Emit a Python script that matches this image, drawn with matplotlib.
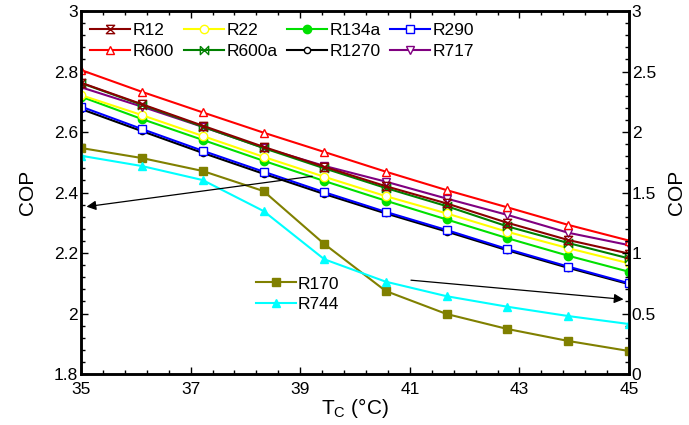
import numpy as np
import matplotlib
matplotlib.use("Agg")
import matplotlib.pyplot as plt
from matplotlib.ticker import MultipleLocator, FixedLocator

plt.rcParams['font.family'] = ['Liberation Sans', 'DejaVu Sans']

# condensing temperature (10 points from 35 to 45)
tc = [35.0, 36.11, 37.22, 38.33, 39.44, 40.56, 41.67, 42.78, 43.89, 45.0]

# left axis: COP
r12   = [2.763, 2.692, 2.621, 2.551, 2.485, 2.421, 2.364, 2.300, 2.243, 2.198]
r22   = [2.722, 2.656, 2.587, 2.518, 2.452, 2.388, 2.331, 2.270, 2.216, 2.166]
r134a = [2.717, 2.643, 2.574, 2.505, 2.438, 2.373, 2.311, 2.249, 2.191, 2.138]
r290  = [2.684, 2.610, 2.538, 2.469, 2.401, 2.336, 2.276, 2.213, 2.155, 2.100]
r600  = [2.805, 2.733, 2.665, 2.598, 2.534, 2.469, 2.408, 2.351, 2.293, 2.241]
r600a = [2.762, 2.690, 2.618, 2.547, 2.480, 2.415, 2.355, 2.288, 2.233, 2.182]
r1270 = [2.676, 2.603, 2.531, 2.462, 2.395, 2.331, 2.271, 2.209, 2.151, 2.097]
r717  = [2.748, 2.684, 2.617, 2.548, 2.488, 2.436, 2.380, 2.326, 2.267, 2.226]

# right axis: COP
r170 = [1.868, 1.785, 1.678, 1.512, 1.074, 0.686, 0.496, 0.372, 0.273, 0.190]
r744 = [1.804, 1.719, 1.603, 1.347, 0.948, 0.763, 0.643, 0.556, 0.479, 0.413]

x_ticks = [35, 37, 39, 41, 43, 45]

hourglass = [(-1, 1), (1, 1), (-1, -1), (1, -1), (-1, 1)]
bowtie = [(-1, 1), (-1, -1), (1, 1), (1, -1), (-1, 1)]

fig = plt.figure(figsize=(6.89, 4.25), dpi=100)
ax = fig.add_axes([0.1176, 0.12, 0.7954, 0.854])
ax2 = ax.twinx()

lw = 1.5
ms = 6
h = {}
h['R1270'], = ax.plot(tc, r1270, color='black', lw=lw, marker='o', ms=4.5, mfc='white', mec='black')
h['R290'], = ax.plot(tc, r290, color='blue', lw=lw, marker='s', ms=ms, mfc='white', mec='blue')
h['R134a'], = ax.plot(tc, r134a, color='#00e000', lw=lw, marker='o', ms=ms, mfc='#00e000', mec='#00e000')
h['R22'], = ax.plot(tc, r22, color='yellow', lw=lw, marker='o', ms=ms, mfc='white', mec='yellow')
h['R717'], = ax.plot(tc, r717, color='purple', lw=lw, marker='v', ms=ms, mfc='white', mec='purple')
h['R600a'], = ax.plot(tc, r600a, color='green', lw=lw, marker=bowtie, ms=ms, mfc='none', mec='green')
h['R12'], = ax.plot(tc, r12, color='#8b0000', lw=lw, marker=hourglass, ms=ms, mfc='none', mec='#8b0000')
h['R600'], = ax.plot(tc, r600, color='red', lw=lw, marker='^', ms=ms, mfc='white', mec='red')

h2 = {}
h2['R170'], = ax2.plot(tc, r170, color='#808000', lw=lw, marker='s', ms=ms)
h2['R744'], = ax2.plot(tc, r744, color='cyan', lw=lw, marker='^', ms=ms)

ax.set_xlim(35, 45)
ax.set_ylim(1.8, 3.0)
ax2.set_ylim(0, 3)

ax.xaxis.set_major_locator(FixedLocator(x_ticks))
ax.xaxis.set_minor_locator(FixedLocator(np.arange(35, 45.01, 0.4)))
ax.yaxis.set_major_locator(MultipleLocator(0.2))
ax.yaxis.set_minor_locator(MultipleLocator(0.04))
ax2.yaxis.set_major_locator(MultipleLocator(0.5))
ax2.yaxis.set_minor_locator(MultipleLocator(0.1))
ax.yaxis.set_major_formatter(plt.FuncFormatter(lambda v, p: ('%g' % round(v, 2))))
ax2.yaxis.set_major_formatter(plt.FuncFormatter(lambda v, p: ('%g' % round(v, 2))))

fs = 12.5
ax.tick_params(which='both', direction='in', top=True, labelsize=fs, width=1)
ax.tick_params(which='major', length=5)
ax.tick_params(which='minor', length=3)
ax2.tick_params(which='both', direction='in', labelsize=fs, width=1, pad=2)
ax2.tick_params(which='major', length=5)
ax2.tick_params(which='minor', length=3)
ax.tick_params(axis='x', pad=6)
ax.tick_params(axis='y', pad=2)
for a in (ax, ax2):
    for s in a.spines.values():
        s.set_linewidth(1.8)

ax.set_ylabel('COP', fontsize=15, labelpad=12)
ax2.set_ylabel('COP', fontsize=15, labelpad=8)
ax.set_xlabel('T$_\\mathregular{C}$ (°C)', fontsize=15, labelpad=-1)

order = ['R12', 'R600', 'R22', 'R600a', 'R134a', 'R1270', 'R290', 'R717']
ax.legend([h[k] for k in order], order, ncol=4, loc='upper left', bbox_to_anchor=(-0.005, 1.0),
          frameon=False, fontsize=fs, handlelength=2.3, handletextpad=0.15, columnspacing=0.55,
          labelspacing=0.3, borderaxespad=0.3)
ax2.legend([h2['R170'], h2['R744']], ['R170', 'R744'], loc='upper left', bbox_to_anchor=(0.29, 0.312),
           frameon=False, fontsize=fs, handlelength=2.3, handletextpad=0.15, labelspacing=0.3)

ax2.annotate('', xy=(35.05, 2.352 * 2.5 - 4.5), xytext=(39.27, 2.455 * 2.5 - 4.5),
             arrowprops=dict(arrowstyle='-|>', color='black', lw=0.9, mutation_scale=14))
ax2.annotate('', xy=(44.95, 2.046 * 2.5 - 4.5), xytext=(40.97, 2.111 * 2.5 - 4.5),
             arrowprops=dict(arrowstyle='-|>', color='black', lw=0.9, mutation_scale=14))

fig.savefig('out.png', dpi=100)
